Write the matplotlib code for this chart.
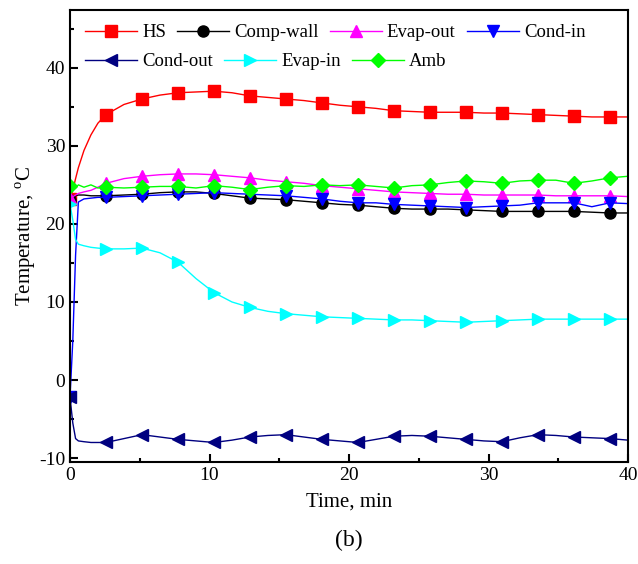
import matplotlib
matplotlib.use("Agg")
import matplotlib.pyplot as plt
from matplotlib.ticker import MultipleLocator

plt.rcParams['font.family'] = ['Liberation Serif', 'DejaVu Serif']
plt.rcParams['mathtext.fontset'] = 'custom'
plt.rcParams['mathtext.rm'] = 'Liberation Serif'
plt.rcParams['axes.unicode_minus'] = False

# time axis (min)
time = [0, 0.2, 0.4, 0.6, 1.0, 1.5, 2.0, 2.58, 3.87, 5.16, 6.45, 7.74, 9.03, 10.32,
        11.61, 12.9, 14.19, 15.48, 16.77, 18.06, 19.35, 20.64, 21.93, 23.22, 24.51,
        25.8, 27.09, 28.38, 29.67, 30.96, 32.25, 33.54, 34.83, 36.12, 37.41, 38.7, 40.0]

hs = [23.2, 24.3, 25.8, 27.2, 29.4, 31.4, 32.9, 34.0, 35.3, 36.0, 36.5, 36.8, 36.9, 37.0,
      36.8, 36.4, 36.2, 36.0, 35.8, 35.5, 35.2, 35.0, 34.8, 34.5, 34.4,
      34.3, 34.3, 34.3, 34.2, 34.2, 34.1, 34.0, 33.9, 33.8, 33.7, 33.7, 33.7]
comp_wall = [23.0, 23.3, 23.6, 23.7, 23.7, 23.6, 23.6, 23.6, 23.7, 23.8, 24.0, 24.1, 24.1, 23.9,
             23.6, 23.3, 23.2, 23.1, 22.9, 22.7, 22.5, 22.4, 22.2, 22.0, 21.9,
             21.9, 21.9, 21.8, 21.7, 21.6, 21.6, 21.6, 21.6, 21.6, 21.5, 21.4, 21.4]
evap_out = [23.3, 23.5, 23.7, 23.9, 24.1, 24.3, 24.7, 25.2, 25.8, 26.1, 26.3, 26.4, 26.4, 26.3,
            26.1, 25.9, 25.6, 25.4, 25.2, 24.9, 24.7, 24.5, 24.3, 24.1, 24.0,
            23.9, 23.8, 23.8, 23.7, 23.7, 23.7, 23.7, 23.6, 23.6, 23.6, 23.6, 23.5]
cond_in = [-2.2, 5.0, 16.0, 22.8, 23.2, 23.3, 23.4, 23.4, 23.5, 23.6, 23.7, 23.8, 23.9, 24.0,
           23.9, 23.8, 23.7, 23.6, 23.4, 23.2, 22.9, 22.7, 22.7, 22.5, 22.4,
           22.3, 22.2, 22.1, 22.2, 22.3, 22.4, 22.7, 22.7, 22.7, 22.2, 22.7, 22.6]
cond_out = [-2.2, -5.5, -7.5, -7.8, -7.9, -8.0, -8.0, -8.0, -7.5, -7.0, -7.3, -7.6, -7.8, -8.0,
            -7.7, -7.3, -7.1, -7.0, -7.3, -7.6, -7.8, -8.0, -7.6, -7.2, -7.1,
            -7.2, -7.4, -7.6, -7.8, -7.9, -7.4, -7.0, -7.1, -7.3, -7.4, -7.5, -7.7]
evap_in = [22.5, 20.5, 18.0, 17.4, 17.2, 17.0, 16.9, 16.8, 16.8, 16.9, 16.3, 15.1, 13.0, 11.2,
           10.0, 9.3, 8.8, 8.5, 8.3, 8.1, 8.0, 7.9, 7.8, 7.7, 7.7,
           7.6, 7.5, 7.4, 7.5, 7.6, 7.7, 7.8, 7.8, 7.8, 7.8, 7.8, 7.8]
amb = [24.9, 25.3, 24.6, 25.0, 24.7, 25.0, 24.6, 24.7, 24.6, 24.7, 24.8, 24.8, 24.6, 24.9,
       24.7, 24.4, 24.7, 24.9, 24.8, 25.0, 24.9, 25.0, 24.8, 24.6, 24.9,
       25.0, 25.3, 25.5, 25.4, 25.2, 25.5, 25.6, 25.6, 25.2, 25.5, 25.9, 26.1]

labels = ['HS', 'Comp-wall', 'Evap-out', 'Cond-in', 'Cond-out', 'Evap-in', 'Amb']
series = [hs, comp_wall, evap_out, cond_in, cond_out, evap_in, amb]
colors = ['#FF0000', '#000000', '#FF00FF', '#0000FF', '#000080', '#00FFFF', '#00FF00']
markers = ['s', 'o', '^', 'v', '<', '>', 'D']

marks = [0] + list(range(7, 36, 2))

fig = plt.figure(figsize=(6.38, 5.64), dpi=100)
ax = fig.add_axes([70 / 638, 1 - 462 / 564, 558 / 638, 452 / 564])

handles = []
for y, lab, c, m in zip(series, labels, colors, markers):
    ms = 7 if m == 'D' else 8
    h, = ax.plot(time, y, color=c, lw=1.0, marker=m, ms=ms, markevery=marks,
                 markeredgecolor=c, markerfacecolor=c, label=lab)
    handles.append(h)

ax.set_xlim(0, 40)
ax.set_ylim(-10.5, 47.4)
ax.xaxis.set_major_locator(MultipleLocator(10))
ax.xaxis.set_minor_locator(MultipleLocator(5))
ax.yaxis.set_major_locator(MultipleLocator(10))
ax.yaxis.set_minor_locator(MultipleLocator(5))
ax.tick_params(which='both', direction='in', labelsize=14, width=1.5)
ax.tick_params(which='major', length=6)
ax.tick_params(which='minor', length=3)
for s in ax.spines.values():
    s.set_linewidth(1.5)

ax.set_xlabel('Time, min', fontsize=15, labelpad=6)
ax.set_ylabel(r'Temperature, $^{\mathrm{o}}$C', fontsize=15, labelpad=1)

# legend: two rows laid out as free-flowing lines
leg_kw = dict(loc='center left', frameon=False, fontsize=13.5, handlelength=2.77,
              handletextpad=0.27, columnspacing=0.6, borderpad=0, borderaxespad=0)
leg1 = ax.legend(handles[:4], labels[:4], ncol=4,
                 bbox_to_anchor=(15 / 558, (462 - 32.7) / 452), **leg_kw)
ax.add_artist(leg1)
ax.legend(handles[4:], labels[4:], ncol=3,
          bbox_to_anchor=(15 / 558, (462 - 61.7) / 452), **leg_kw)

fig.text(349 / 638, 1 - 540 / 564, '(b)', fontsize=17, ha='center', va='center')

fig.savefig('out.png', dpi=100)
